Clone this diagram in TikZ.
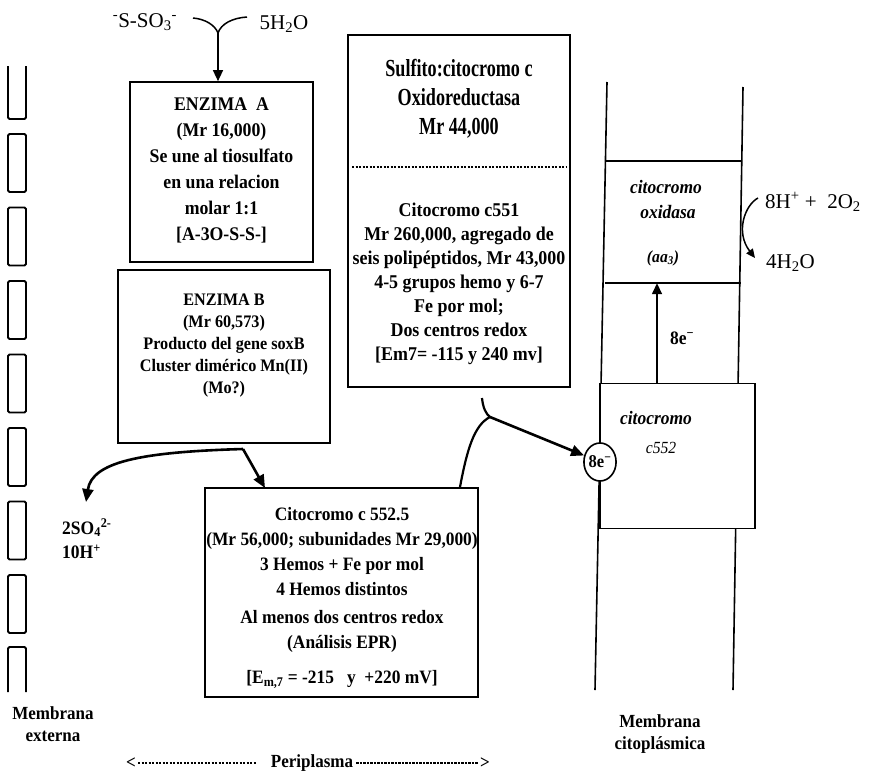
\documentclass[tikz,border=0pt]{standalone}
\usepackage{fontspec}
\setmainfont{Liberation Serif}
\newfontfamily\condf[FakeStretch=0.92]{Liberation Serif}
\newfontfamily\narrowf[FakeStretch=0.74]{Liberation Serif}
\usetikzlibrary{arrows.meta,shapes.geometric}
\newcommand\myTop{\rmfamily\fontsize{21}{24}\selectfont}
\newcommand\myA{\condf\bfseries\fontsize{19.3}{26}\selectfont}
\newcommand\myB{\condf\bfseries\fontsize{17.6}{22}\selectfont}
\newcommand\myS{\condf\bfseries\fontsize{19.5}{24}\selectfont}
\newcommand\myT{\narrowf\bfseries\fontsize{24.5}{29}\selectfont}
\newcommand\myC{\condf\bfseries\fontsize{18.9}{25}\selectfont}
\newcommand\myL{\condf\bfseries\fontsize{19}{24}\selectfont}
\newcommand\myI{\condf\bfseries\itshape\fontsize{19}{24}\selectfont}
\newcommand\myIs{\condf\itshape\fontsize{17}{20}\selectfont}
\newcommand\myE{\condf\bfseries\fontsize{18}{20}\selectfont}
\newcommand\myM{\condf\bfseries\fontsize{18.5}{22}\selectfont}
\begin{document}
\begin{tikzpicture}[x=1pt,y=-1pt,
  box/.style={draw,line width=1.7pt,inner sep=0pt},
  txt/.style={inner sep=0pt,align=center},
  memb/.style={line width=1.6pt},
  mrect/.style={line width=1.8pt,rounded corners=1.5pt},
  thinarr/.style={line width=1.5pt,-{Triangle[length=11pt,width=10pt]}},
  thickarr/.style={line width=2.6pt,-{Triangle[length=13pt,width=11pt]}},
  curvy/.style={line width=2.2pt},
  dashsep/.style={line width=1.3pt,dash pattern=on 2.2pt off 1.3pt}]
\useasboundingbox (0,0) rectangle (880,779);
\fill[white] (0,0) rectangle (880,779);

% outer membrane
\draw[mrect] (8,66) -- (8,119) -- (26,119) -- (26,66);
\foreach \t in {134,207.5,281,354.5,428,501.5,575}
  \draw[mrect] (8,\t) rectangle (26,\t+58);
\draw[mrect] (8,692) -- (8,647) -- (26,647) -- (26,692);

% top reaction
\node[txt,font=\myTop] (sso) at (145,22) {\textsuperscript{-}S-SO\textsubscript{3}\textsuperscript{-}};
\node[txt,font=\myTop] (hho) at (284,24) {5H\textsubscript{2}O};
\coordinate (j1) at (218,33);
\coordinate (lb) at (193,18);
\coordinate (rb) at (247,17);
\draw[line width=1.5pt] (lb) .. controls (205,19) and (215,25) .. (j1);
\draw[line width=1.5pt] (rb) .. controls (232,18) and (221,24) .. (j1);

% Enzima A
\node[box,minimum width=183pt,minimum height=180pt] (enzA) at (221.5,172) {};
\node[txt,font=\myA] (enzAt) at (221.5,170) {ENZIMA~~A\\(Mr 16,000)\\Se une al tiosulfato\\en una relacion\\molar 1:1\\{[}A-3O-S-S-{]}};
\draw[thinarr] (j1) -- (j1 |- enzA.north);

% Enzima B
\node[box,minimum width=212pt,minimum height=173pt] (enzB) at (224,356.5) {};
\node[txt,font=\myB] (enzBt) at (224,346) {ENZIMA B\\(Mr 60,573)\\Producto del gene soxB\\Cluster dimérico Mn(II)\\(Mo?)};

% Sulfito box
\node[box,minimum width=222pt,minimum height=352pt] (sulf) at (459,211) {};
\node[txt,font=\myT] (sulft) at (459,99) {Sulfito:citocromo c\\Oxidoreductasa\\Mr 44,000};
\coordinate (d1) at (352,167);
\coordinate (d2) at (567,167);
\draw[dashsep] (d1) -- (d2);
\node[txt,font=\myS] (sulfb) at (459,284) {Citocromo c551\\Mr 260,000, agregado de\\seis polipéptidos, Mr 43,000\\4-5 grupos hemo y 6-7\\Fe por mol;\\Dos centros redox\\{[}Em7= -115 y 240 mv{]}};

% Citocromo c 552.5
\node[box,minimum width=273pt,minimum height=209pt] (cyt) at (341.5,592.5) {};
\node[txt,font=\myC] (cytt) at (342,598) {Citocromo c 552.5\\(Mr 56,000; subunidades Mr 29,000)\\3 Hemos + Fe por mol\\4 Hemos distintos\\[3pt]Al menos dos centros redox\\(Análisis EPR)\\[10pt]{[}E\textsubscript{m,7} = -215~~~y~~+220 mV{]}};

% products of Enzima B
\coordinate (j2) at (243,449);
\coordinate (cytin) at (265,488);
\coordinate (so4in) at (86,502);
\draw[thickarr] (j2) -- (cytin);
\draw[thickarr] (j2) .. controls (140,452) and (92,462) .. (so4in);
\node[txt,font=\myL,anchor=west] (so4) at (62,528) {2SO\textsubscript{4}\textsuperscript{2-}};
\node[txt,font=\myL,anchor=west] (hplus) at (62,552) {10H\textsuperscript{+}};

% cytoplasmic membrane
\draw[memb] (607,82) -- (595,690);
\draw[memb] (743,87) -- (733,690);

% cytochrome oxidase
\node[minimum width=136pt,minimum height=122pt,inner sep=0pt] (oxid) at (673,222) {};
\draw[memb] (oxid.north west) -- (oxid.north east);
\draw[memb] (oxid.south west) -- (oxid.south east);
\node[txt,font=\myI] (ox1) at (666,187) {citocromo};
\node[txt,font=\myI] (ox2) at (668,212) {oxidasa};
\node[txt,font=\myIs] (ox3) at (663,258) {\bfseries(aa\textsubscript{3})};

\node[txt,font=\myTop,anchor=west] (h8) at (765,202) {8H\textsuperscript{+}\ +\ \ 2O\textsubscript{2}};
\node[txt,font=\myTop,anchor=west] (w4) at (766,263) {4H\textsubscript{2}O};
\draw[line width=1.5pt,-{Triangle[length=9pt,width=8pt]}] ([shift={(-7,-4)}]h8.west) .. controls (745,205) and (735,232) .. ([shift={(-11,-5)}]w4.west);

% cytochrome c552
\node[box,fill=white,minimum width=155pt,minimum height=145pt] (c552) at (677.5,456) {};
\node[txt,font=\myI] (c1t) at (656,418) {citocromo};
\node[txt,font=\myIs] (c2t) at (661,448) {c552};
\coordinate (ax) at (657,0);
\draw[thinarr] (c552.north -| ax) -- (oxid.south -| ax);
\node[txt,font=\myL] (lab8) at (682,338) {8e\textsuperscript{−}};

% 8e- carrier
\node[draw,ellipse,line width=1.6pt,fill=white,minimum width=28pt,minimum height=38pt,inner sep=0pt,font=\myE] (e8) at (600,462) {8e\textsuperscript{−}};
\coordinate (j3) at (490,417);
\coordinate (c1) at (460,487);
\coordinate (hk) at (482,398);
\draw[curvy] (c1) .. controls (467,450) and (474,425) .. (j3);
\draw[curvy] (hk) .. controls (483,408) and (486,414) .. (j3);
\draw[thickarr] (j3) -- (e8);

% bottom labels
\node[txt,font=\myM] (mext) at (53,724) {Membrana\\externa};
\node[txt,font=\myM] (mcit) at (660,734) {Membrana\\citoplásmica};
\node[txt,font=\myM] (peri) at (312,763) {Periplasma};
\node[txt,font=\myM] (la) at (131,763) {<};
\node[txt,font=\myM] (ra) at (485,763) {>};
\draw[dashsep] ([xshift=2pt]la.east) -- ([xshift=-14pt]peri.west);
\draw[dashsep] ([xshift=3pt]peri.east) -- ([xshift=-2pt]ra.west);
\end{tikzpicture}
\end{document}
